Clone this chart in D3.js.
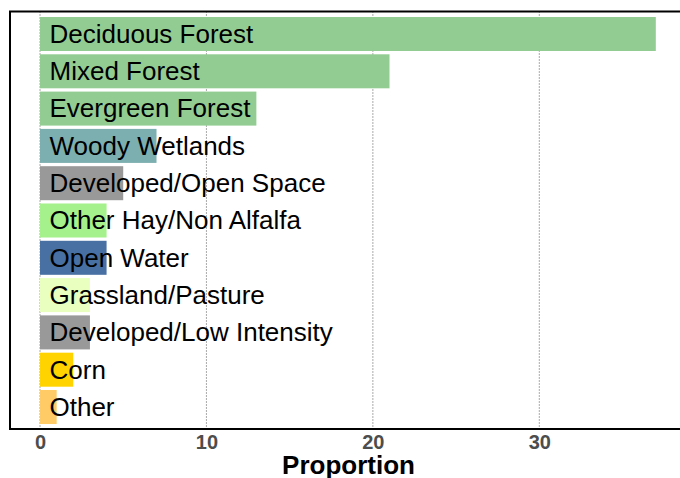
<!DOCTYPE html>
<html><head><meta charset="utf-8">
<script src="https://cdn.jsdelivr.net/npm/d3@7"></script>
<style>body{margin:0;background:#fff}svg{display:block}</style>
</head><body>
<svg id="chart" width="680" height="478"></svg>
<script>
const categories = ["Deciduous Forest","Mixed Forest","Evergreen Forest","Woody Wetlands","Developed/Open Space","Other Hay/Non Alfalfa","Open Water","Grassland/Pasture","Developed/Low Intensity","Corn","Other"];
const values = [37, 21, 13, 7, 5, 4, 4, 3, 3, 2, 1];
const colors = ["#93CC93","#93CC93","#93CC93","#7CAFAF","#999999","#A5F28C","#4970A3","#E8FFBF","#999999","#FFD300","#FECB66"];
const xTicks = [0, 10, 20, 30];
const xTitle = "Proportion";

const svg = d3.select("#chart");
const panel = {left: 10, top: 11.5, right: 684, bottom: 429};

const x = d3.scaleLinear().domain([0, 30]).range([40, 539.3]);
const y = d3.scaleBand().domain(categories).range([15.35, 425.65]).paddingInner(0.088).paddingOuter(0.044);

// gridlines
svg.append("g").selectAll("line").data(xTicks).join("line")
  .attr("x1", d => x(d)).attr("x2", d => x(d))
  .attr("y1", panel.top).attr("y2", panel.bottom)
  .attr("stroke", "#555").attr("stroke-width", 1).attr("stroke-dasharray", "1,2");

// bars
svg.append("g").selectAll("rect").data(categories).join("rect")
  .attr("x", x(0)).attr("y", d => y(d))
  .attr("width", (d, i) => x(values[i]) - x(0))
  .attr("height", y.bandwidth())
  .attr("fill", (d, i) => colors[i]);

// labels
svg.append("g").selectAll("text").data(categories).join("text")
  .attr("x", x(0) + 9.5).attr("y", d => y(d) + y.bandwidth() / 2 + 8.8)
  .attr("font-family", "Liberation Sans, Arial, sans-serif")
  .attr("font-size", 26).attr("fill", "#000")
  .text(d => d);

// panel border
svg.append("rect").attr("x", panel.left).attr("y", panel.top)
  .attr("width", panel.right - panel.left).attr("height", panel.bottom - panel.top)
  .attr("fill", "none").attr("stroke", "#000").attr("stroke-width", 2);

// x axis
const ax = svg.append("g").attr("transform", `translate(0,${panel.bottom})`)
  .call(d3.axisBottom(x).tickValues(xTicks).tickSize(0).tickPadding(0));
ax.select(".domain").remove();
ax.selectAll("text").attr("dy", null).attr("y", 20)
  .attr("font-family", "Liberation Sans, Arial, sans-serif")
  .attr("font-size", 20).attr("font-weight", "bold").attr("fill", "#4D4D4D");

svg.append("text").attr("x", 348.5).attr("y", 474)
  .attr("text-anchor", "middle")
  .attr("font-family", "Liberation Sans, Arial, sans-serif")
  .attr("font-size", 26).attr("font-weight", "bold").attr("fill", "#000")
  .text(xTitle);
</script>
</body></html>
